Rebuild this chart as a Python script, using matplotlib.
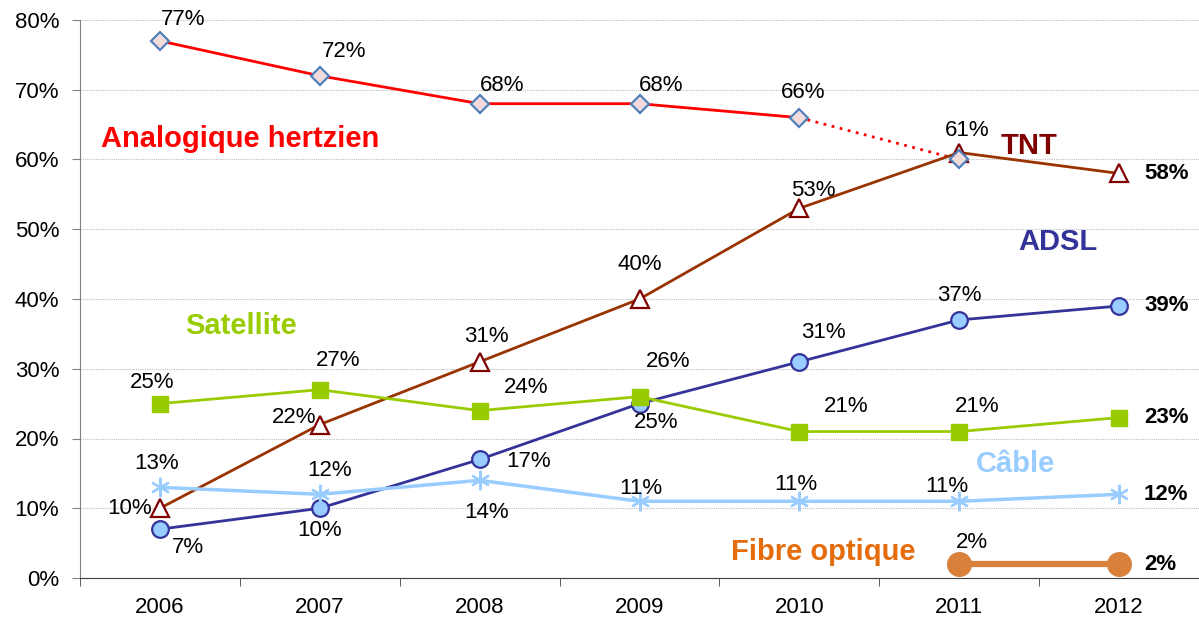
import numpy as np
import matplotlib.pyplot as plt
from matplotlib.ticker import FixedLocator

plt.rcParams['font.family'] = ['Liberation Sans', 'DejaVu Sans']

years = ['2006', '2007', '2008', '2009', '2010', '2011', '2012']

analog = [77, 72, 68, 68, 66]
analog_2011 = 60
tnt = [10, 22, 31, 40, 53, 61, 58]
adsl = [7, 10, 17, 25, 31, 37, 39]
satellite = [25, 27, 24, 26, 21, 21, 23]
cable = [13, 12, 14, 11, 11, 11, 12]
fibre = [2, 2]  # 2011, 2012

# label offsets in pixels (dx, dy); last point of each series gets a bold label at right
analog_off = [(23, 21), (24, 24), (22, 18), (22, 18), (4, 25)]
tnt_off = [(-30, 0), (-26, 7), (7, 25), (0, 35), (14, 18), (8, 22)]
adsl_off = [(28, -18), (0, -22), (49, -2), (17, -19), (24, 29), (0, 24)]
sat_off = [(-8, 21), (18, 29), (46, 23), (29, 35), (47, 25), (18, 25)]
cable_off = [(-3, 24), (10, 24), (7, -32), (1, 13), (-4, 17), (-12, 15)]

NUM = 16
x = np.arange(len(years))

fig = plt.figure(figsize=(11.99, 6.18), dpi=100)
ax = fig.add_axes([80 / 1199, 1 - 578 / 618, 1 - 80 / 1199, (578 - 20) / 618])

# analogique
ax.plot(x[:5], analog, color='#FF0000', lw=2, zorder=3)
ax.plot([4, 5], [analog[-1], analog_2011], color='#FF0000', lw=2, ls=(0, (1, 2)), zorder=3)
ax.plot(list(x[:5]) + [5], analog + [analog_2011], ls='none', marker='D', ms=9.5,
        mfc='#F2DCDB', mec='#4F81BD', mew=1.6, zorder=5)

# TNT
ax.plot(x, tnt, color='#993300', lw=2, marker='^', ms=12.5, mfc='white', mec='#800000',
        mew=1.6, zorder=4)
# ADSL
ax.plot(x, adsl, color='#333399', lw=2, marker='o', ms=12, mfc='#99CCFF', mec='#333399',
        mew=1.6, zorder=4)
# Satellite
ax.plot(x, satellite, color='#99CC00', lw=2, marker='s', ms=12, mfc='#99CC00', mec='#99CC00',
        zorder=4)
# Cable
ax.plot(x, cable, color='#99CCFF', lw=2.5, marker=(6, 2, 0), ms=14, mec='#99CCFF', mew=1.6,
        zorder=4)
# Fibre
ax.plot([5, 6], fibre, color='#D9803B', lw=4.5, marker='o', ms=17, mfc='#D9803B', mec='#D9803B',
        zorder=4)


def lab(xi, v, off):
    ax.annotate(f'{v}%', (xi, v), xytext=off, textcoords='offset pixels',
                ha='center', va='center', fontsize=NUM, color='black', zorder=6)


def last(v):
    ax.annotate(f'{v}%', (6, v), xytext=(25, 0), textcoords='offset pixels',
                ha='left', va='center', fontsize=NUM, fontweight='bold', color='black', zorder=6)


for i, v in enumerate(analog):
    lab(i, v, analog_off[i])
for i, v in enumerate(tnt[:6]):
    lab(i, v, tnt_off[i])
for i, v in enumerate(adsl[:6]):
    lab(i, v, adsl_off[i])
for i, v in enumerate(satellite[:6]):
    lab(i, v, sat_off[i])
for i, v in enumerate(cable[:6]):
    lab(i, v, cable_off[i])
lab(5, fibre[0], (13, 22))
for v in (tnt[-1], adsl[-1], satellite[-1], cable[-1], fibre[-1]):
    last(v)

# series names
names = [('Analogique hertzien', 0.5, 63, '#FF0000'),
         ('TNT', 5.44, 62, '#800000'),
         ('ADSL', 5.62, 48.2, '#333399'),
         ('Satellite', 0.51, 36.2, '#99CC00'),
         ('Câble', 5.35, 16.4, '#99CCFF'),
         ('Fibre optique', 4.15, 3.7, '#E46C0A')]
for txt, xx, yy, c in names:
    ax.text(xx, yy, txt, color=c, fontsize=21, fontweight='bold', ha='center', va='center')

ax.set_xlim(-0.5, 6.5)
ax.set_ylim(0, 80)
ax.set_yticks(np.arange(0, 81, 10))
ax.set_yticklabels([f'{t}%' for t in range(0, 81, 10)], fontsize=NUM)
ax.set_xticks(x)
ax.set_xticklabels(years, fontsize=NUM)
ax.xaxis.set_minor_locator(FixedLocator(np.arange(-0.5, 6.6, 1)))
ax.tick_params(axis='x', which='major', length=0, pad=14)
ax.tick_params(axis='x', which='minor', length=6, color='#404040')
ax.tick_params(axis='y', length=6, color='#808080', pad=9)
ax.grid(axis='y', color='#BFBFBF', ls=(0, (1, 1)), lw=0.8)
ax.set_axisbelow(True)
for s in ('top', 'right'):
    ax.spines[s].set_visible(False)
ax.spines['left'].set_color('#808080')
ax.spines['bottom'].set_color('#404040')

fig.savefig('out.png', dpi=100)
